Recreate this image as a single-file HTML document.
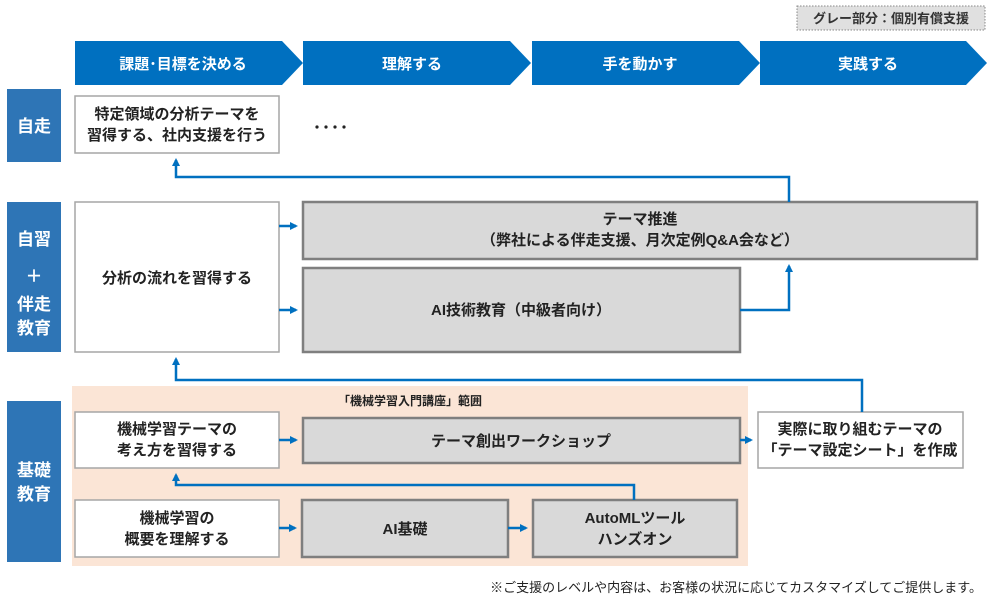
<!DOCTYPE html>
<html><head><meta charset="utf-8"><style>
body{margin:0;background:#fff;}
svg{display:block;font-family:"Liberation Sans","Noto Sans CJK JP",sans-serif;}
.w{fill:#fff;stroke:#a6a6a6;stroke-width:1.5}
.g{fill:#d9d9d9;stroke:#7f7f7f;stroke-width:2.5}
.t{font-size:15px;font-weight:bold;fill:#222;text-anchor:middle}
.h{font-size:15px;font-weight:bold;fill:#fff;text-anchor:middle}
.l{font-size:17px;font-weight:bold;fill:#fff;text-anchor:middle}
.c{fill:none;stroke:#0070c0;stroke-width:2.5}
</style></head><body>
<svg width="1000" height="606" viewBox="0 0 1000 606">
<defs><marker id="a" markerWidth="8" markerHeight="8" refX="6" refY="4" orient="auto" markerUnits="userSpaceOnUse"><path d="M0,0 L8,4 L0,8 z" fill="#0070c0"/></marker></defs>
<rect x="797" y="6" width="188" height="24" fill="#e0e0e0" stroke="#888" stroke-dasharray="1.5,1.5"/>
<text x="891" y="23" font-size="13" font-weight="bold" fill="#333" text-anchor="middle">グレー部分：個別有償支援</text>
<polygon points="75,41 282,41 303,63 282,85 75,85" fill="#0070c0"/>
<polygon points="303,41 510,41 531,63 510,85 303,85" fill="#0070c0"/>
<polygon points="532,41 739,41 760,63 739,85 532,85" fill="#0070c0"/>
<polygon points="760,41 966,41 987,63 966,85 760,85" fill="#0070c0"/>
<text class="h" x="183" y="69">課題･目標を決める</text>
<text class="h" x="412" y="69">理解する</text>
<text class="h" x="640" y="69">手を動かす</text>
<text class="h" x="868" y="69">実践する</text>
<rect x="7" y="89" width="54" height="73" fill="#2e75b6"/>
<text class="l" x="34" y="132">自走</text>
<rect x="7" y="202" width="54" height="150" fill="#2e75b6"/>
<text class="l" x="34" y="245">自習</text><text class="l" x="34" y="282">＋</text>
<text class="l" x="34" y="310">伴走</text><text class="l" x="34" y="334">教育</text>
<rect x="7" y="401" width="54" height="161" fill="#2e75b6"/>
<text class="l" x="34" y="476">基礎</text><text class="l" x="34" y="500">教育</text>
<rect x="72" y="386" width="676" height="180" fill="#fbe5d6"/>
<text x="410" y="405" font-size="12" font-weight="bold" fill="#222" text-anchor="middle">「機械学習入門講座」範囲</text>
<rect class="w" x="75" y="96" width="204" height="57"/>
<text class="t" x="177" y="119">特定領域の分析テーマを</text><text class="t" x="177" y="140">習得する、社内支援を行う</text>
<g fill="#222"><circle cx="317" cy="127" r="1.6"/><circle cx="326" cy="127" r="1.6"/><circle cx="335" cy="127" r="1.6"/><circle cx="344" cy="127" r="1.6"/></g>
<rect class="w" x="75" y="202" width="204" height="150"/>
<text class="t" x="177" y="283">分析の流れを習得する</text>
<rect class="g" x="303" y="202" width="674" height="57"/>
<text class="t" x="640" y="224">テーマ推進</text><text class="t" x="640" y="245">（弊社による伴走支援、月次定例Q&amp;A会など）</text>
<rect class="g" x="303" y="268" width="437" height="84"/>
<text class="t" x="521" y="315">AI技術教育（中級者向け）</text>
<rect class="w" x="75" y="412" width="204" height="56"/>
<text class="t" x="177" y="434">機械学習テーマの</text><text class="t" x="177" y="455">考え方を習得する</text>
<rect class="g" x="303" y="418" width="437" height="45"/>
<text class="t" x="521" y="446">テーマ創出ワークショップ</text>
<rect class="w" x="758" y="412" width="205" height="56"/>
<text class="t" x="860" y="434">実際に取り組むテーマの</text><text class="t" x="860" y="455">「テーマ設定シート」を作成</text>
<rect class="w" x="75" y="500" width="204" height="57"/>
<text class="t" x="177" y="523">機械学習の</text><text class="t" x="177" y="544">概要を理解する</text>
<rect class="g" x="302" y="500" width="206" height="57"/>
<text class="t" x="405" y="534">AI基礎</text>
<rect class="g" x="533" y="500" width="204" height="57"/>
<text class="t" x="635" y="523">AutoMLツール</text><text class="t" x="635" y="544">ハンズオン</text>
<text x="982" y="592" font-size="13" fill="#222" text-anchor="end">※ご支援のレベルや内容は、お客様の状況に応じてカスタマイズしてご提供します。</text>
<path class="c" d="M789,202 V177 H176 V160" marker-end="url(#a)"/>
<path class="c" d="M862,412 V380 H176 V359" marker-end="url(#a)"/>
<path class="c" d="M634,500 V485 H176 V475" marker-end="url(#a)"/>
<path class="c" d="M740,310 H789 V266" marker-end="url(#a)"/>
<path class="c" d="M279,226 H296" marker-end="url(#a)"/>
<path class="c" d="M279,310 H296" marker-end="url(#a)"/>
<path class="c" d="M279,440 H296" marker-end="url(#a)"/>
<path class="c" d="M279,528 H295" marker-end="url(#a)"/>
<path class="c" d="M508,528 H526" marker-end="url(#a)"/>
<path class="c" d="M740,440 H751" marker-end="url(#a)"/>
</svg>
</body></html>
